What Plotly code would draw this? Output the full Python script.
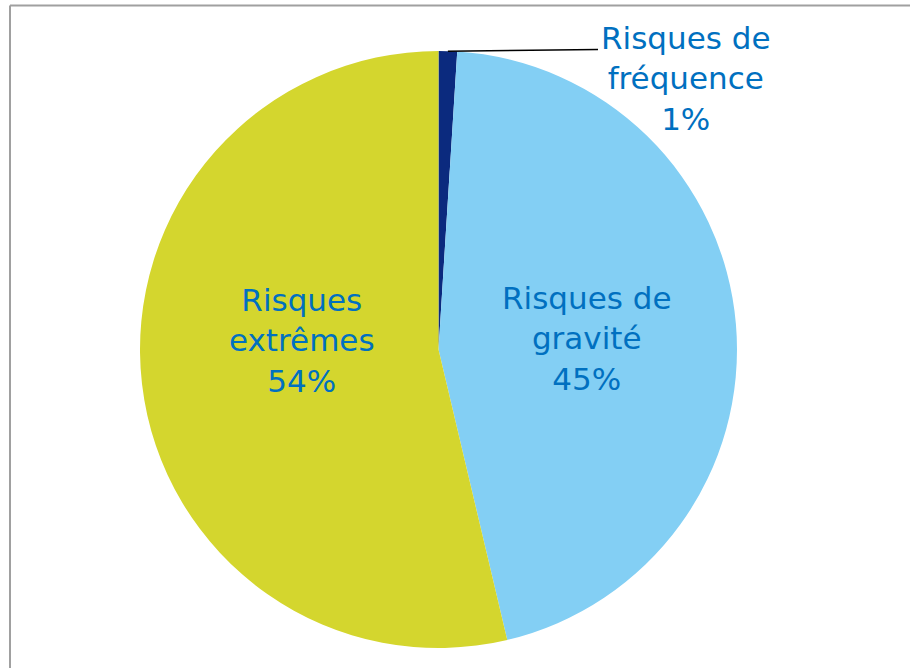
import math
import plotly.graph_objects as go

# ---- data ----
categories = ["Risques de fréquence", "Risques de gravité", "Risques extrêmes"]
label_lines = [["Risques de", "fréquence"], ["Risques de", "gravité"], ["Risques", "extrêmes"]]
values = [1.0, 45.3, 53.7]
colors = ["#0B2A7E", "#83CFF4", "#D4D62E"]

W, H = 910, 668
def px_x(p):
    return p / W
def px_y(p):
    return 1 - p / H

# pie geometry (pixels)
cx, cy, R = 438.5, 349.5, 298.5

fig = go.Figure(go.Pie(
    labels=categories,
    values=values,
    sort=False,
    direction="clockwise",
    rotation=0,
    textinfo="none",
    hoverinfo="label+percent",
    marker=dict(colors=colors, line=dict(width=0)),
    domain=dict(x=[px_x(cx - R), px_x(cx + R)], y=[px_y(cy + R), px_y(cy - R)]),
    showlegend=False,
))

total = sum(values)
pct = [round(v / total * 100) for v in values]
texts = ["<br>".join(lines + [f"{p}%"]) for lines, p in zip(label_lines, pct)]

label_pos = [(685, 79), (586, 338), (302, 340)]
font = dict(family="DejaVu Sans", size=31, color="#0070C0")
annotations = []
for t, (x, y) in zip(texts, label_pos):
    annotations.append(dict(text=t, x=px_x(x), y=px_y(y), xref="paper", yref="paper",
                            showarrow=False, xanchor="center", yanchor="middle",
                            font=font, align="center"))

# leader line from middle of smallest slice's edge to its outside label
mid_angle = math.radians(values[0] / total * 360 / 2)
lx0 = cx + R * math.sin(mid_angle)
ly0 = cy - R * math.cos(mid_angle)
shapes = [
    dict(type="line", xref="paper", yref="paper", x0=px_x(lx0), y0=px_y(ly0),
         x1=px_x(598), y1=px_y(49.5), line=dict(color="#000000", width=1.5)),
    # chart border (left and top visible)
    dict(type="line", xref="paper", yref="paper", x0=px_x(10), y0=px_y(5.5),
         x1=px_x(930), y1=px_y(5.5), line=dict(color="#A0A0A0", width=2)),
    dict(type="line", xref="paper", yref="paper", x0=px_x(10), y0=px_y(5.5),
         x1=px_x(10), y1=px_y(690), line=dict(color="#A0A0A0", width=2)),
]

fig.update_layout(
    width=W, height=H,
    margin=dict(l=0, r=0, t=0, b=0),
    paper_bgcolor="white",
    plot_bgcolor="white",
    annotations=annotations,
    shapes=shapes,
)

fig.write_html("out.html",
               config={"displayModeBar": False},
               post_script="document.body.style.margin='0';document.body.style.overflow='hidden';")
